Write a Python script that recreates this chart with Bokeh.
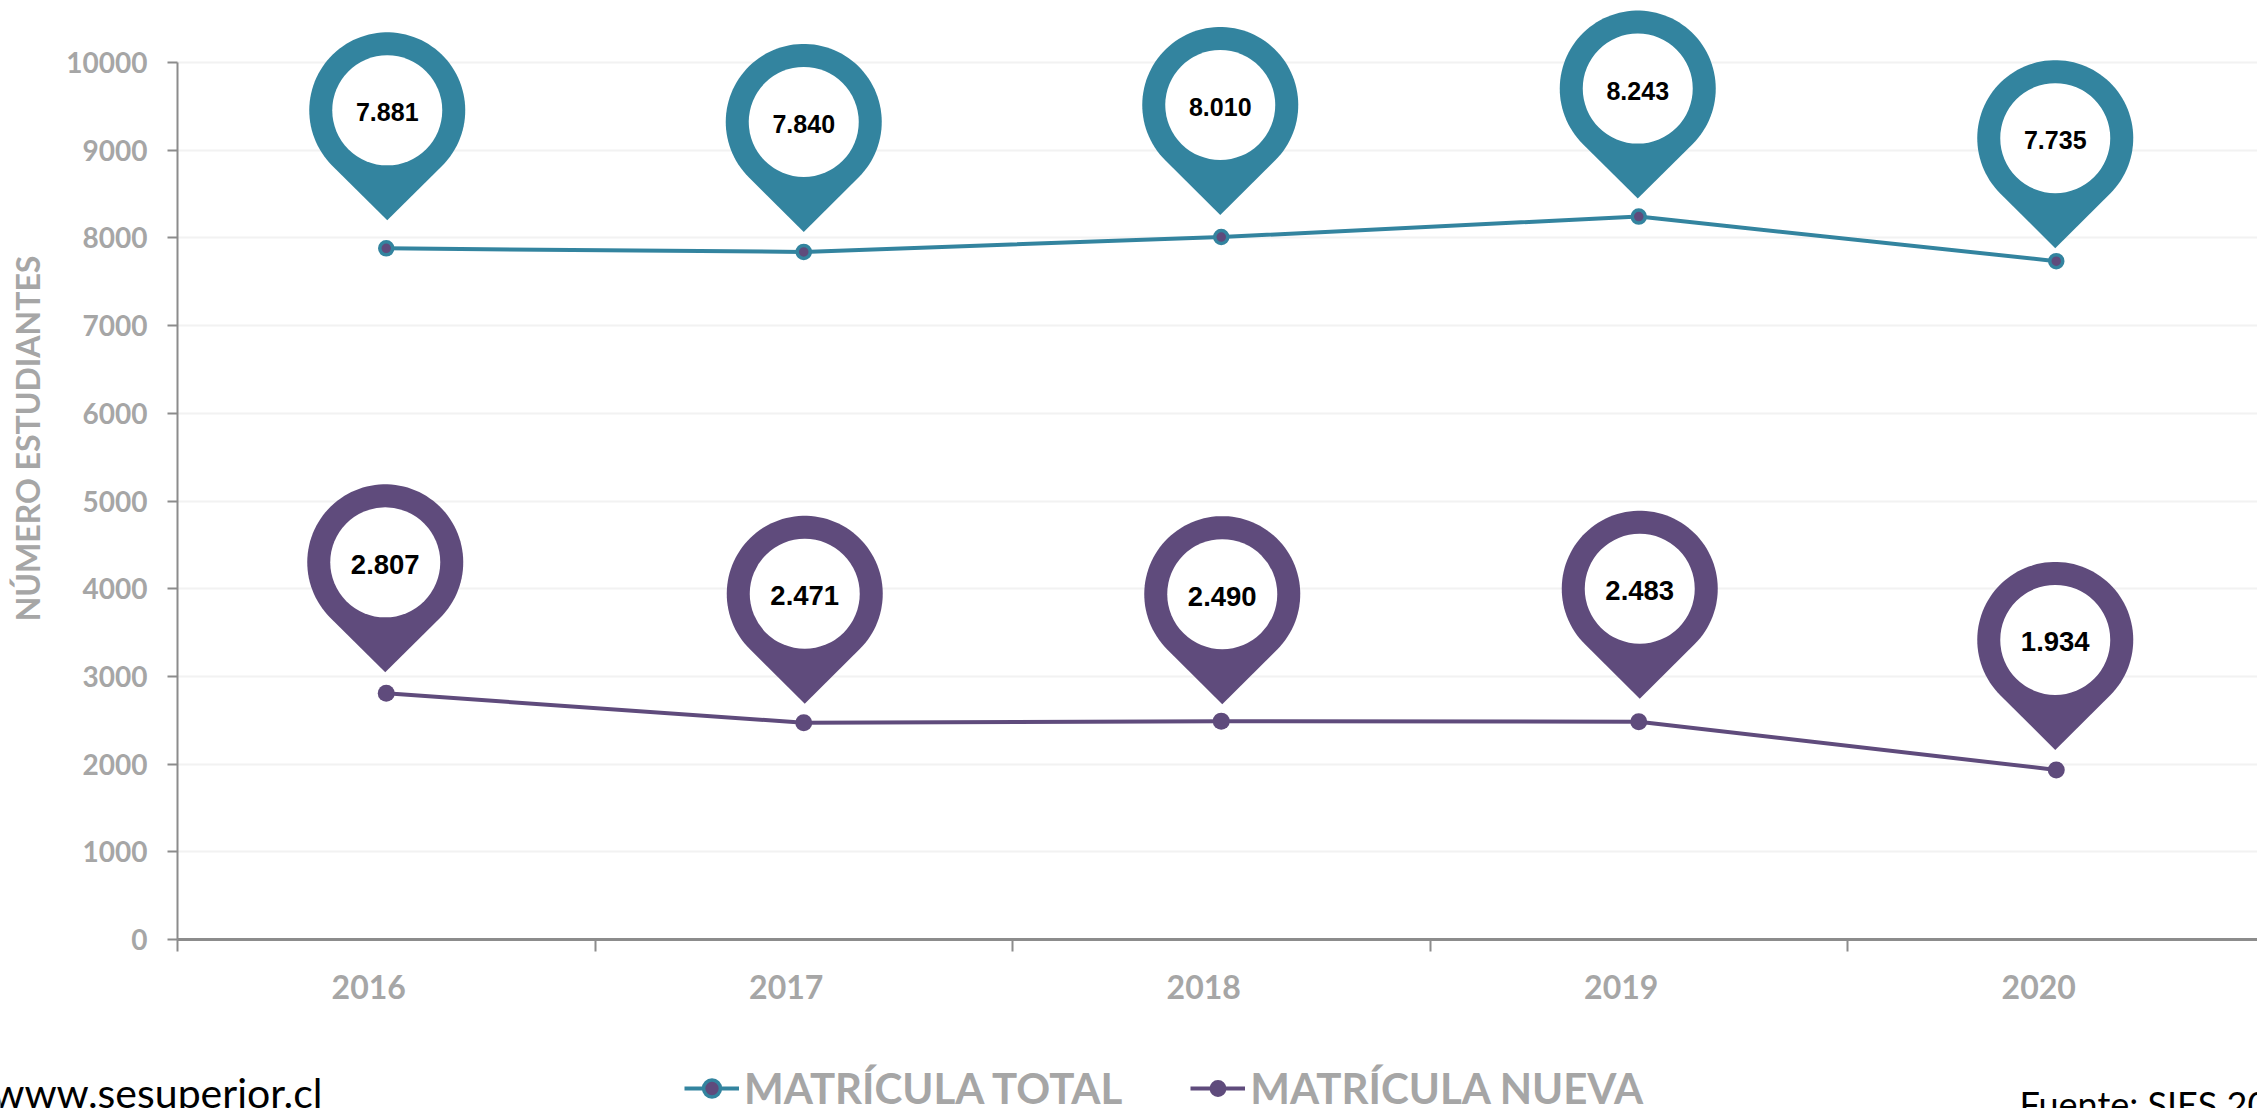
import math
import numpy as np
from bokeh.core.properties import value
from bokeh.embed import file_html
from bokeh.models import (ColumnDataSource, FixedTicker, Label, Legend, LegendItem,
                          NumeralTickFormatter, Range1d)
from bokeh.plotting import figure
from bokeh.resources import INLINE

# ---- data
years = [2016, 2017, 2018, 2019, 2020]
matricula_total = [7881, 7840, 8010, 8243, 7735]
matricula_nueva = [2807, 2471, 2490, 2483, 1934]
y_ticks = [0, 1000, 2000, 3000, 4000, 5000, 6000, 7000, 8000, 9000, 10000]
name_total = "MATRÍCULA TOTAL"
name_nueva = "MATRÍCULA NUEVA"
y_title = "NÚMERO ESTUDIANTES"
site_text = "www.sesuperior.cl"
source_text = "Fuente: SIES 2020"

# ---- layout (page pixels) and styles
W, H = 2257, 1108
LEFT, BOTTOM = 177, 939
PX_PER_YEAR = 417.5
PX_PER_UNIT = 0.0877
TEAL = "#33849F"
PURPLE = "#5F4B7C"
GREY = "#A6A6A6"
AXIS = "#8C8C8C"
gap_total = [28, 20, 22, 18, 13]
gap_nueva = [21, 19, 17, 23, 20]
shift_total = [1, 0, -1, -1, -1]
shift_nueva = [-1, 1, 1, 1, -1]
PIN_R, PIN_TIP = 78.0, 110.0


def data_x(px):
    return years[0] - 0.5 + (px - LEFT) / PX_PER_YEAR


def data_y(py):
    return (BOTTOM - py) / PX_PER_UNIT


p = figure(width=W, height=H, output_backend="svg", toolbar_location=None,
           x_range=Range1d(data_x(0), data_x(W)), y_range=Range1d(data_y(H), data_y(0)),
           min_border=0, x_axis_type="linear")
p.outline_line_color = None
p.background_fill_color = "white"
p.border_fill_color = "white"

# grid
p.xgrid.visible = False
p.ygrid.ticker = FixedTicker(ticks=y_ticks[1:])
p.ygrid.grid_line_color = "#F2F2F2"
p.ygrid.grid_line_width = 2
if "cross_bounds" in p.ygrid[0].properties():
    p.ygrid[0].cross_bounds = (data_x(LEFT), data_x(W))
else:
    p.ygrid.visible = False
    p.segment(data_x(LEFT), y_ticks[1:], data_x(W), y_ticks[1:], line_color="#F2F2F2", line_width=2)

# axes
ax = p.yaxis[0]
ax.fixed_location = data_x(LEFT)
ax.ticker = FixedTicker(ticks=y_ticks)
ax.formatter = NumeralTickFormatter(format="0")
ax.bounds = (y_ticks[0], y_ticks[-1])
ax.axis_line_color = AXIS
ax.axis_line_width = 2
ax.major_tick_line_color = AXIS
ax.major_tick_line_width = 2
ax.major_tick_in = 0
ax.major_tick_out = 10
ax.minor_tick_line_color = None
ax.major_label_standoff = 20
ax.major_label_text_font = "Lato"
ax.major_label_text_font_style = "bold"
ax.major_label_text_font_size = "28px"
ax.major_label_text_color = GREY

bx = p.xaxis[0]
bx.fixed_location = 0
bx.bounds = (data_x(LEFT), data_x(W))
bx.ticker = FixedTicker(ticks=[y - 0.042 for y in years],
                        minor_ticks=[y - 0.5 for y in years])
bx.formatter = NumeralTickFormatter(format="0")
bx.axis_line_color = AXIS
bx.axis_line_width = 3
bx.major_tick_line_color = None
bx.major_tick_in = 0
bx.major_tick_out = 0
bx.minor_tick_line_color = AXIS
bx.minor_tick_line_width = 2
bx.minor_tick_in = 0
bx.minor_tick_out = 12
bx.major_label_standoff = 23
bx.major_label_text_font = "Lato"
bx.major_label_text_font_style = "bold"
bx.major_label_text_font_size = "32px"
bx.major_label_text_color = GREY

# series
l1 = p.line(years, matricula_total, line_color=TEAL, line_width=4)
s1 = p.scatter(years, matricula_total, marker="circle", size=13, fill_color=PURPLE,
               line_color=TEAL, line_width=3.5)
l2 = p.line(years, matricula_nueva, line_color=PURPLE, line_width=4)
s2 = p.scatter(years, matricula_nueva, marker="circle", size=17, fill_color=PURPLE,
               line_color=PURPLE, line_width=0)

# pins: drawn from each value, offset in pixels
half = math.asin(PIN_R / PIN_TIP)
angles = np.linspace(-half, math.pi + half, 90)
outline_dx = np.concatenate([PIN_R * np.cos(angles), [0]])
outline_dy = np.concatenate([PIN_TIP + PIN_R * np.sin(angles), [0]])


def pins(vals, gaps, shifts, color, font_px):
    xs, ys, cx, cy, labels = [], [], [], [], []
    for yr, v, g, s in zip(years, vals, gaps, shifts):
        x0 = yr + s / PX_PER_YEAR
        y0 = v + g / PX_PER_UNIT
        xs.append(list(x0 + outline_dx / PX_PER_YEAR))
        ys.append(list(y0 + outline_dy / PX_PER_UNIT))
        cx.append(x0)
        cy.append(y0 + PIN_TIP / PX_PER_UNIT)
        labels.append(f"{v:,}".replace(",", "."))
    p.patches(xs, ys, fill_color=color, line_color=color, line_width=0)
    src = ColumnDataSource(dict(x=cx, y=cy, t=labels))
    p.scatter("x", "y", source=src, marker="circle", size=110, fill_color="white", line_color=None)
    p.text("x", "y", text="t", source=src, text_font=value("Liberation Sans"),
           text_font_style="bold", text_font_size=font_px, text_color="black",
           text_align="center", text_baseline="middle", y_offset=2)


pins(matricula_total, gap_total, shift_total, TEAL, "25px")
pins(matricula_nueva, gap_nueva, shift_nueva, PURPLE, "27.5px")

# legend
legend = Legend(items=[LegendItem(label=name_total, renderers=[l1, s1]),
                       LegendItem(label=name_nueva, renderers=[l2, s2])],
                orientation="horizontal", location=(684, -5),
                background_fill_alpha=0, border_line_color=None, padding=0, margin=0,
                glyph_width=55, glyph_height=42, label_standoff=5, spacing=68,
                label_text_font="Lato", label_text_font_style="bold",
                label_text_font_size="42px", label_text_color=GREY)
p.add_layout(legend, "center")

# free texts
p.add_layout(Label(x=data_x(27), y=data_y(438), text=y_title, angle=math.pi / 2,
                   text_align="center", text_baseline="middle", text_font="Lato",
                   text_font_style="bold", text_font_size="32px", text_color=GREY))
p.add_layout(Label(x=data_x(322), y=data_y(1092), text=site_text, text_align="right",
                   text_baseline="alphabetic", text_font="Lato", text_font_size="41px",
                   text_color="black"))
p.add_layout(Label(x=data_x(2019), y=data_y(1103), text=source_text, text_align="left",
                   text_baseline="alphabetic", text_font="Lato", text_font_size="36px",
                   text_color="black"))

open("out.html", "w").write(file_html(p, INLINE))
